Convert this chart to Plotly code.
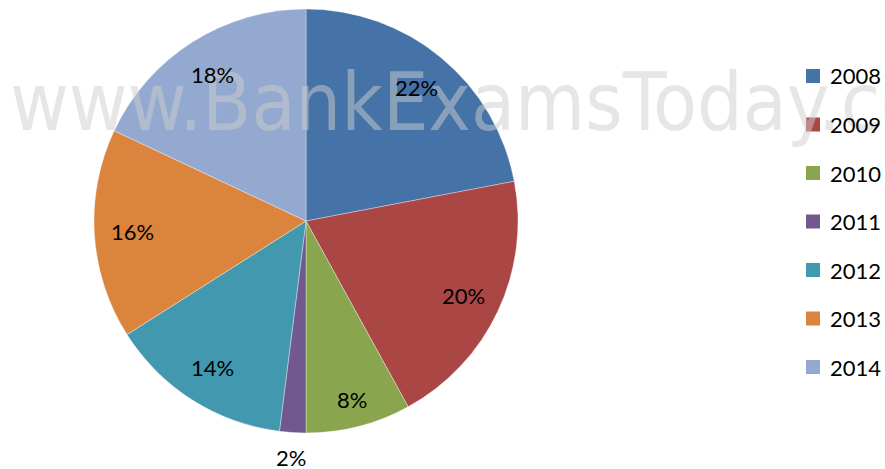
import math

import plotly.graph_objects as go

# Chart data
years   = ['2008', '2009', '2010', '2011', '2012', '2013', '2014']
shares  = [22, 20, 8, 2, 14, 16, 18]
colours = ['#4572A7', '#AA4643', '#89A54E', '#71588F', '#4198AF', '#DB843D', '#93A9CF']

W, H = 885, 469

def px(x):
    return x / W

def py(y):
    return 1 - y / H

#  Pie geometry (pixels)
cx, cy, R = 306, 221, 212

fig = go.Figure()

fig.add_trace(go.Pie(labels=years, values=shares, sort=False,
                     direction='clockwise', rotation=0,
                     marker=dict(colors=colours, line=dict(color='rgba(255,255,255,0.5)', width=0.7)),
                     textinfo='none', hoverinfo='label+percent',
                     showlegend=False,
                     domain=dict(x=[px(cx - R), px(cx + R)],
                                 y=[py(cy + R), py(cy - R)])))

# Watermark
fig.add_annotation(text='www.BankExamsToday.com', x=px(8), y=py(102),
                   xref='paper', yref='paper', xanchor='left', yanchor='middle',
                   showarrow=False,
                   font=dict(family='DejaVu Sans Condensed, Liberation Sans Narrow, Liberation Sans',
                             size=80, color='rgba(205,205,205,0.5)'))

#  Percentage labels, placed at the slice mid-angles
total = sum(shares)
start = 0.0
for v in shares:
    frac = v / total
    mid  = (start + frac / 2) * 2 * math.pi
    if frac < 0.05:
        r = 1.12 * R
    elif frac < 0.1:
        r = 0.87 * R
    else:
        r = 0.82 * R
    fig.add_annotation(text=f'{v}%', x=px(cx + r * math.sin(mid)), y=py(cy - r * math.cos(mid)),
                       xref='paper', yref='paper', xanchor='center', yanchor='middle',
                       showarrow=False,
                       font=dict(family='Lato', size=22, color='black'))
    start += frac

#  Legend, drawn by hand to get the wide row spacing
lx, ly0, step, sq = 806, 76, 48.5, 14
for i, (name, col) in enumerate(zip(years, colours)):
    yc = ly0 + i * step
    fig.add_shape(type='rect', xref='paper', yref='paper',
                  x0=px(lx), x1=px(lx + sq), y0=py(yc + sq / 2), y1=py(yc - sq / 2),
                  fillcolor=col, line=dict(width=0))
    fig.add_annotation(text=name, x=px(lx + 22), y=py(yc),
                       xref='paper', yref='paper', xanchor='left', yanchor='middle',
                       showarrow=False,
                       font=dict(family='Lato', size=22, color='black'))

fig.update_layout(
    width=W, height=H,
    margin=dict(l=0, r=0, t=0, b=0, autoexpand=False),
    paper_bgcolor='white', plot_bgcolor='white',
    showlegend=False,
)

#  drop the default page margin so the figure fills the window exactly
fig.write_html('out.html', config={'displayModeBar': False},
               post_script="document.body.style.margin = '0';")
